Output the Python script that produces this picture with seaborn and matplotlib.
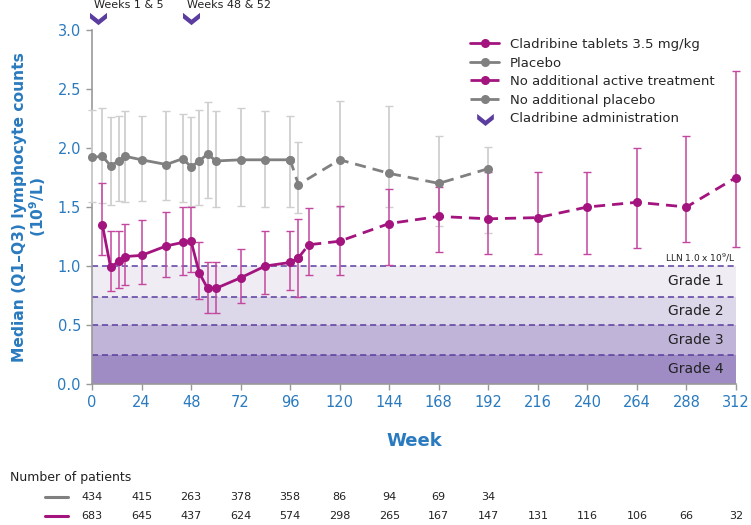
import numpy as np
import matplotlib
matplotlib.use("Agg")
import matplotlib.pyplot as plt
import seaborn as sns
from matplotlib.lines import Line2D
from matplotlib.path import Path
from matplotlib.transforms import blended_transform_factory

# placebo, years 1-2
plac_wk = [0, 5, 9, 13, 16, 24, 36, 44, 48, 52, 56, 60, 72, 84, 96]
plac_med = [1.92, 1.93, 1.85, 1.89, 1.93, 1.90, 1.86, 1.91, 1.84, 1.89, 1.95, 1.89, 1.90, 1.90, 1.90]
plac_q1 = [1.54, 1.53, 1.52, 1.55, 1.54, 1.55, 1.56, 1.54, 1.51, 1.52, 1.58, 1.50, 1.51, 1.50, 1.50]
plac_q3 = [2.32, 2.34, 2.26, 2.27, 2.31, 2.27, 2.31, 2.29, 2.26, 2.32, 2.39, 2.31, 2.34, 2.31, 2.27]

# no additional placebo (extension)
pext_wk = [100, 120, 144, 168, 192]
pext_med = [1.69, 1.90, 1.785, 1.70, 1.825]
pext_q1 = [1.45, 1.50, 1.50, 1.34, 1.28]
pext_q3 = [2.05, 2.40, 2.36, 2.10, 2.01]

# cladribine tablets 3.5 mg/kg
clad_wk = [5, 9, 13, 16, 24, 36, 44, 48, 52, 56, 60, 72, 84, 96, 100]
clad_med = [1.35, 0.99, 1.04, 1.08, 1.09, 1.17, 1.20, 1.21, 0.94, 0.81, 0.81, 0.90, 1.00, 1.03, 1.07]
clad_q1 = [1.09, 0.79, 0.81, 0.84, 0.85, 0.91, 0.92, 0.95, 0.72, 0.60, 0.60, 0.69, 0.76, 0.80, 0.74]
clad_q3 = [1.70, 1.30, 1.30, 1.36, 1.39, 1.46, 1.50, 1.50, 1.20, 1.03, 1.03, 1.14, 1.30, 1.30, 1.40]

# no additional active treatment (extension)
cext_wk = [105, 120, 144, 168, 192, 216, 240, 264, 288, 312]
cext_med = [1.18, 1.21, 1.36, 1.42, 1.40, 1.41, 1.50, 1.54, 1.50, 1.75]
cext_q1 = [0.92, 0.92, 1.01, 1.12, 1.10, 1.10, 1.10, 1.15, 1.20, 1.16]
cext_q3 = [1.49, 1.51, 1.65, 1.67, 1.80, 1.80, 1.80, 2.00, 2.10, 2.65]

# lymphopenia grade bands
grade_edges = [1.0, 0.74, 0.5, 0.25, 0.0]
grade_labels = ["Grade 1", "Grade 2", "Grade 3", "Grade 4"]
grade_colors = ["#efecf4", "#ddd7ea", "#c0b4d9", "#9f8cc4"]

admin_wk = [3, 48]
admin_labels = ["Weeks 1 & 5", "Weeks 48 & 52"]

table_wk = list(range(0, 313, 24))
plac_n = [434, 415, 263, 378, 358, 86, 94, 69, 34]
clad_n = [683, 645, 437, 624, 574, 298, 265, 167, 147, 131, 116, 106, 66, 32]

MAG = "#a3147f"
MAG_ERR = "#c4479f"
GRAY = "#808080"
GRAY_ERR = "#cfcfcf"
PURPLE = "#5a3d9e"
BLUE = "#2a7abf"

sns.set_style("white")
plt.rcParams["font.family"] = ["DejaVu Sans"]

fig = plt.figure(figsize=(7.51, 5.25), dpi=100)
ax = fig.add_axes([92 / 751, 1 - 384 / 525, 644 / 751, 354 / 525])

# grade bands and dashed limits
for i in range(4):
    ax.axhspan(grade_edges[i + 1], grade_edges[i], color=grade_colors[i], lw=0, zorder=0)
    ax.axhline(grade_edges[i], color=PURPLE, lw=1.1, ls=(0, (4, 2.5)), zorder=1)
    ax.text(306, (grade_edges[i] + grade_edges[i + 1]) / 2, grade_labels[i],
            ha="right", va="center", fontsize=10, color="#222222", zorder=2)
ax.text(312, 1.02, "LLN 1.0 x 10$^9$/L", ha="right", va="bottom", fontsize=6.5, color="#222222")

# error bars
def errbars(wk, med, lo, hi, color, lw, z):
    med = np.array(med)
    ax.errorbar(wk, med, yerr=[med - np.array(lo), np.array(hi) - med], fmt="none",
                ecolor=color, elinewidth=lw, capsize=3, capthick=1.0, zorder=z, clip_on=False)

errbars(plac_wk, plac_med, plac_q1, plac_q3, GRAY_ERR, 1.3, 3)
errbars(pext_wk, pext_med, pext_q1, pext_q3, GRAY_ERR, 1.3, 3)
errbars(clad_wk, clad_med, clad_q1, clad_q3, MAG_ERR, 1.1, 4)
errbars(cext_wk, cext_med, cext_q1, cext_q3, MAG_ERR, 1.1, 4)

dash = (0, (4, 2.5))
line_kw = dict(marker="o", markersize=6.5, markeredgewidth=0, linewidth=2, ax=ax, clip_on=False)
sns.lineplot(x=[plac_wk[-1]] + pext_wk, y=[plac_med[-1]] + pext_med, color=GRAY, linestyle=dash, zorder=5, **line_kw)
sns.lineplot(x=plac_wk, y=plac_med, color=GRAY, zorder=5, **line_kw)
sns.lineplot(x=[clad_wk[-1]] + cext_wk, y=[clad_med[-1]] + cext_med, color=MAG, linestyle=dash, zorder=6, **line_kw)
sns.lineplot(x=clad_wk, y=clad_med, color=MAG, zorder=6, **line_kw)

# chevron marker for administration
chev = Path([(-1, 0.55), (0, -0.25), (1, 0.55), (1, -0.1), (0, -0.9), (-1, -0.1), (-1, 0.55)],
            [Path.MOVETO] + [Path.LINETO] * 5 + [Path.CLOSEPOLY])
ax.scatter(admin_wk, [3.11] * len(admin_wk), marker=chev, s=150, color=PURPLE, lw=0, clip_on=False, zorder=7)
for w, lab in zip(admin_wk, admin_labels):
    ax.text(w - 2, 3.21, lab, ha="left", va="center", fontsize=8, color="#222222", clip_on=False)

ax.set_xlim(0, 312)
ax.set_ylim(0, 3.0)
ax.set_xticks(table_wk)
ax.set_yticks(np.arange(0, 3.01, 0.5))
ax.set_yticklabels([f"{v:.1f}" for v in np.arange(0, 3.01, 0.5)])
ax.tick_params(axis="both", which="major", direction="out", length=4, width=1, color="#999999",
               labelcolor=BLUE, labelsize=10.5, bottom=True, left=True, pad=4)
for s in ["top", "right"]:
    ax.spines[s].set_visible(False)
for s in ["left", "bottom"]:
    ax.spines[s].set_color("#999999")
    ax.spines[s].set_linewidth(1.2)

ax.set_ylabel("Median (Q1\u2013Q3) lymphocyte counts\n(10$^{\\mathbf{9}}$/L)", color=BLUE,
              fontsize=11.2, fontweight="bold", linespacing=1.0)
ax.yaxis.set_label_coords(-0.069, 0.5)
ax.set_xlabel("Week", color=BLUE, fontsize=13, fontweight="bold")
ax.xaxis.set_label_coords(0.5, -0.135)

# legend
handles = [
    Line2D([], [], color=MAG, lw=2, marker="o", markersize=6.5, markeredgewidth=0),
    Line2D([], [], color=GRAY, lw=2, marker="o", markersize=6.5, markeredgewidth=0),
    Line2D([], [], color=MAG, lw=2, ls=dash, marker="o", markersize=6.5, markeredgewidth=0),
    Line2D([], [], color=GRAY, lw=2, ls=dash, marker="o", markersize=6.5, markeredgewidth=0),
    Line2D([], [], color=PURPLE, lw=0, marker=chev, markersize=12, markeredgewidth=0),
]
labels = ["Cladribine tablets 3.5 mg/kg", "Placebo", "No additional active treatment",
          "No additional placebo", "Cladribine administration"]
fig.legend(handles, labels, loc="upper left", bbox_to_anchor=(470 / 751, 1 - 38 / 525),
           frameon=False, fontsize=9.5, handlelength=2.2, labelspacing=0.42,
           borderpad=0, borderaxespad=0, handletextpad=0.8)

# number of patients table
tr = blended_transform_factory(ax.transData, fig.transFigure)
fig.text(10 / 751, 1 - 477 / 525, "Number of patients", fontsize=9, color="#222222", va="center")
for row_y, counts, col in [(497, plac_n, GRAY), (516, clad_n, MAG)]:
    yf = 1 - row_y / 525
    fig.add_artist(Line2D([45 / 751, 68 / 751], [yf, yf], color=col, lw=2.2, transform=fig.transFigure))
    for w, n in zip(table_wk, counts):
        fig.text(w, yf, str(n), transform=tr, ha="center", va="center", fontsize=8, color="#222222")

fig.savefig("out.png", dpi=100)
